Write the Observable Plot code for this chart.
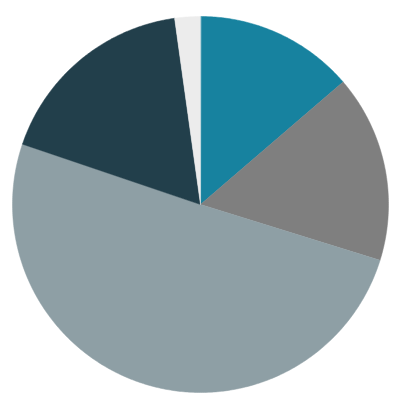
<!DOCTYPE html>
<html>
<head>
<meta charset="utf-8">
<script src="https://cdn.jsdelivr.net/npm/d3@7"></script>
<script src="https://cdn.jsdelivr.net/npm/@observablehq/plot@0.6"></script>
<style>
  html, body { margin: 0; padding: 0; background: #ffffff; }
</style>
</head>
<body>
<div id="chart"></div>
<script>
const categories = ["A", "B", "C", "D", "E"];
const values = [13.7, 16.1, 50.4, 17.6, 2.2];
const colors = ["#17829f", "#7f7f7f", "#8e9fa5", "#223f4b", "#ececec"];

const arcs = d3.pie().sort(null).value(d => d.value)
  (categories.map((c, i) => ({category: c, value: values[i]})));

const pts = [];
for (const a of arcs) {
  const cat = a.data.category;
  pts.push({category: cat, x: 0, y: 0});
  const n = Math.max(2, Math.ceil((a.endAngle - a.startAngle) / 0.01));
  for (let k = 0; k <= n; k++) {
    const t = a.startAngle + (a.endAngle - a.startAngle) * k / n;
    pts.push({category: cat, x: Math.sin(t), y: Math.cos(t)});
  }
}

const chart = Plot.plot({
  width: 400,
  height: 409,
  marginLeft: 12,
  marginRight: 12,
  marginTop: 16,
  marginBottom: 17,
  x: {domain: [-1, 1], axis: null},
  y: {domain: [-1, 1], axis: null},
  color: {type: "ordinal", domain: categories, range: colors},
  marks: [
    Plot.line(pts, {x: "x", y: "y", z: "category", fill: "category", stroke: "category", strokeWidth: 0.5, curve: "linear-closed"})
  ]
});
document.getElementById("chart").appendChild(chart);
</script>
</body>
</html>
